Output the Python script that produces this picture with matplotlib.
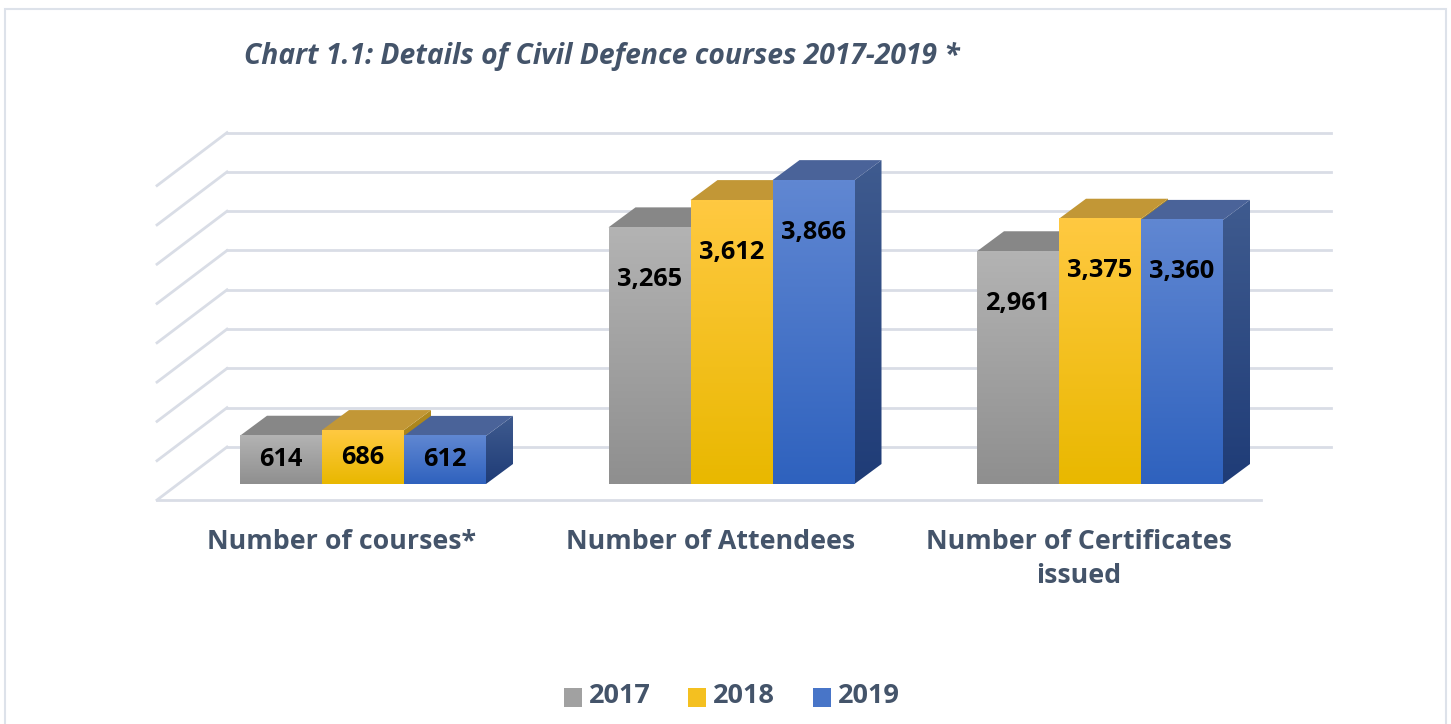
import numpy as np
import matplotlib.pyplot as plt
from matplotlib.colors import to_rgb, to_hex
from matplotlib.patches import Polygon, Rectangle

categories = ['Number of courses*', 'Number of Attendees', 'Number of Certificates\nissued']
years = ['2017', '2018', '2019']
v2017 = [614, 3265, 2961]
v2018 = [686, 3612, 3375]
v2019 = [612, 3866, 3360]
series = [v2017, v2018, v2019]

# front colours (top, bottom), top face, side face (top, bottom)
front_cols = [('#b3b3b3', '#8f8f8f'), ('#ffc941', '#e9b800'), ('#6087d2', '#2f62be')]
top_cols = ['#878787', '#c29736', '#4a6399']
side_cols = [('#6e6e6e', '#555555'), ('#b08a20', '#a07a10'), ('#3f5b8f', '#1f3c77')]
text_col = '#44546a'

W, H = 1451, 724
fig = plt.figure(figsize=(W / 100, H / 100), dpi=100)
plt.rcParams['font.family'] = ['Open Sans', 'DejaVu Sans']

# pixel -> data scale of the bar front plane
px_x = 1 / 368.5          # category units per pixel
px_y = 500 / 39.3         # value units per pixel
ax_l, ax_r, ax_t, ax_b = 150, 1345, 110, 520
ax = fig.add_axes([ax_l / W, 1 - ax_b / H, (ax_r - ax_l) / W, (ax_b - ax_t) / H])
ax.axis('off')

bar_w = 82 * px_x
bdx, bdy = 27 * px_x, 20 * px_y        # bar depth
wdx, wdy = 49 * px_x, 37 * px_y        # bar plane -> back wall
fdx, fdy = -21 * px_x, -16 * px_y      # bar plane -> floor front
left, right = -0.502, 2.494
grid_col = '#d9dde6'

# walls / gridlines
for k in range(9):
    v = 500 * k
    ax.plot([left + wdx, right + wdx], [v + wdy, v + wdy], color=grid_col, lw=2, zorder=1)
    ax.plot([left + fdx, left + wdx], [v + fdy, v + wdy], color=grid_col, lw=2, zorder=1)
ax.plot([left + fdx, right + fdx], [fdy, fdy], color=grid_col, lw=2, zorder=1)

x = np.arange(len(categories))
grad = np.linspace(0, 1, 64).reshape(-1, 1, 1)
z = 2
for i, vals in enumerate(series):
    xs = x + (i - 1) * bar_w
    bars = ax.bar(xs, vals, width=bar_w, color='none', zorder=z)
    for b in bars:
        x0, x1, h = b.get_x(), b.get_x() + b.get_width(), b.get_height()
        # side face
        side = Polygon([(x1, 0), (x1 + bdx, bdy), (x1 + bdx, h + bdy), (x1, h)], closed=True,
                       facecolor='none', edgecolor='none')
        ax.add_patch(side)
        c0, c1 = np.array(to_rgb(side_cols[i][0])), np.array(to_rgb(side_cols[i][1]))
        im = ax.imshow(c0 * (1 - grad) + c1 * grad, extent=(x1, x1 + bdx, 0, h + bdy),
                       aspect='auto', zorder=z, interpolation='bilinear')
        im.set_clip_path(side)
        # top face
        ax.add_patch(Polygon([(x0, h), (x0 + bdx, h + bdy), (x1 + bdx, h + bdy), (x1, h)],
                             closed=True, facecolor=top_cols[i], edgecolor='none', zorder=z + 0.1))
        # front face with gradient
        c0, c1 = np.array(to_rgb(front_cols[i][0])), np.array(to_rgb(front_cols[i][1]))
        ax.imshow(c0 * (1 - grad) + c1 * grad, extent=(x0, x1, 0, h), aspect='auto',
                  zorder=z + 0.2, interpolation='bilinear')
        ax.text((x0 + x1) / 2, h - min(h / 2, 52 * px_y), f'{h:,}', ha='center', va='center',
                fontsize=18.3, fontweight='bold', color='black', zorder=100)
        z += 1
ax.set_xlim((ax_l - 363) * px_x, (ax_r - 363) * px_x)
ax.set_ylim((484 - ax_b) * px_y, (484 - ax_t) * px_y)

# category labels at the floor front
for xi, cat in zip(x, categories):
    fig.text((363 + (xi + fdx) / px_x) / W, 1 - 529 / H, cat, ha='center', va='top',
             fontsize=19.3, fontweight='bold', color=text_col, linespacing=1.4)

fig.text(244 / W, 1 - 56 / H, 'Chart 1.1: Details of Civil Defence courses 2017-2019 *',
         ha='left', va='center', fontsize=20.3, fontweight='bold', style='italic', color=text_col)

# legend
leg_x = [564, 688, 813]
for i, yr in enumerate(years):
    mid = (np.array(to_rgb(front_cols[i][0])) + np.array(to_rgb(front_cols[i][1]))) / 2
    fig.patches.append(Rectangle((leg_x[i] / W, 1 - 707 / H), 18 / W, 19 / H, transform=fig.transFigure,
                                 facecolor=to_hex(mid), edgecolor='none'))
    fig.text((leg_x[i] + 25) / W, 1 - 696 / H, yr, ha='left', va='center', fontsize=19.5,
             fontweight='bold', color=text_col)

# outer frame
fig.patches.append(Rectangle((5 / W, -0.01), 1441 / W, 1 - 9 / H + 0.01, transform=fig.transFigure,
                             facecolor='none', edgecolor='#dde2ea', lw=1.5))

fig.savefig('out.png', dpi=100)
